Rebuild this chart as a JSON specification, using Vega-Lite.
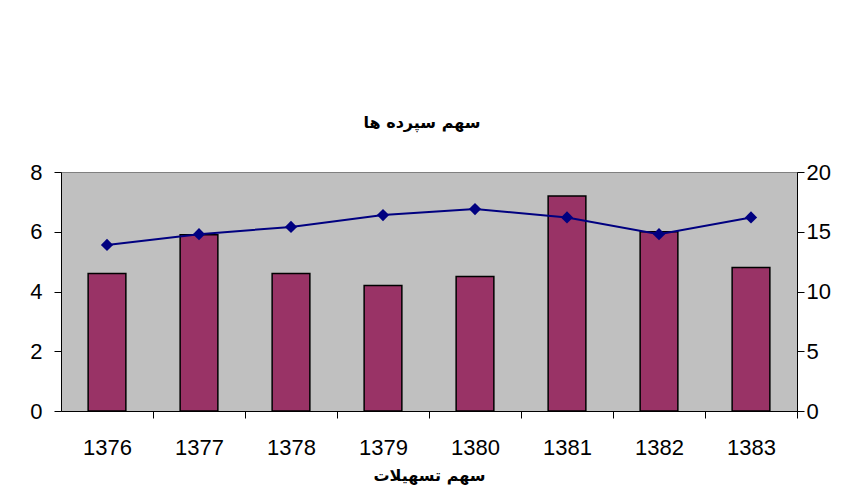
{
  "$schema": "https://vega.github.io/schema/vega-lite/v6.json",
  "width": 736,
  "height": 239,
  "autosize": "none",
  "padding": {"left": 61, "top": 172, "right": 50, "bottom": 84},
  "background": "white",
  "config": {
    "view": {"fill": "#C0C0C0", "stroke": "#808080", "strokeWidth": 1},
    "axis": {
      "domainColor": "black",
      "tickColor": "black",
      "tickSize": 7,
      "labelFont": "Liberation Sans",
      "labelFontSize": 22,
      "labelColor": "black",
      "grid": false
    }
  },
  "title": {
    "text": "سهم سپرده ها",
    "font": "DejaVu Sans",
    "fontSize": 16,
    "fontWeight": "bold",
    "color": "black",
    "offset": 30,
    "dx": -7
  },
  "data": {
    "values": [
      {"year": "1376", "bars": 4.6, "line": 13.9},
      {"year": "1377", "bars": 5.9, "line": 14.8},
      {"year": "1378", "bars": 4.6, "line": 15.4},
      {"year": "1379", "bars": 4.2, "line": 16.4},
      {"year": "1380", "bars": 4.5, "line": 16.9},
      {"year": "1381", "bars": 7.2, "line": 16.2},
      {"year": "1382", "bars": 6.0, "line": 14.8},
      {"year": "1383", "bars": 4.8, "line": 16.2}
    ]
  },
  "encoding": {
    "x": {
      "field": "year",
      "type": "ordinal",
      "scale": {"paddingInner": 0, "paddingOuter": 0},
      "axis": {
        "labelAngle": 0,
        "tickOffset": 46,
        "labelOffset": -46,
        "labelPadding": 19,
        "title": "سهم تسهیلات",
        "titleFont": "DejaVu Sans",
        "titleFontSize": 16,
        "titleFontWeight": "bold",
        "titleColor": "black",
        "titlePadding": 9
      }
    }
  },
  "layer": [
    {
      "mark": {"type": "bar", "color": "#993366", "stroke": "black", "strokeWidth": 1.5, "width": {"band": 0.41}},
      "encoding": {
        "y": {
          "field": "bars",
          "type": "quantitative",
          "scale": {"domain": [0, 8]},
          "axis": {"title": null, "values": [0, 2, 4, 6, 8], "labelPadding": 12}
        }
      }
    },
    {
      "mark": {
        "type": "line",
        "color": "#000080",
        "strokeWidth": 2,
        "point": {"shape": "diamond", "size": 150, "filled": true, "color": "#000080", "opacity": 1}
      },
      "encoding": {
        "y": {
          "field": "line",
          "type": "quantitative",
          "scale": {"domain": [0, 20]},
          "axis": {"title": null, "orient": "right", "values": [0, 5, 10, 15, 20], "labelPadding": 2}
        }
      }
    }
  ],
  "resolve": {"scale": {"y": "independent"}}
}
